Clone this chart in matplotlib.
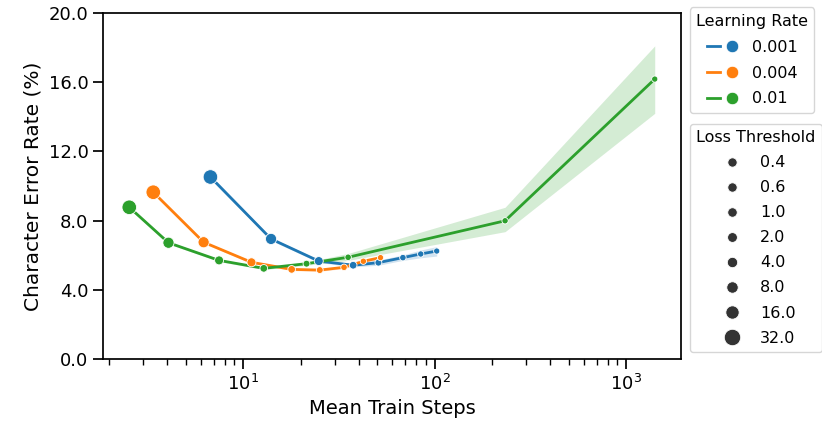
import numpy as np
import matplotlib
matplotlib.use("Agg")
import matplotlib.pyplot as plt
from matplotlib.lines import Line2D
from matplotlib.legend_handler import HandlerTuple
from matplotlib.ticker import FormatStrFormatter, FixedLocator

# Data
loss_thresholds = [32.0, 16.0, 8.0, 4.0, 2.0, 1.0, 0.6, 0.4]
legend_thresholds = [0.4, 0.6, 1.0, 2.0, 4.0, 8.0, 16.0, 32.0]
learning_rates = ["0.001", "0.004", "0.01"]

steps_lr001 = [6.74, 13.97, 24.8, 37.5, 50.8, 68.2, 84.5, 102.4]
cer_lr001 = [10.52, 6.94, 5.66, 5.42, 5.57, 5.86, 6.07, 6.24]
lo_lr001 = [10.40, 6.85, 5.58, 5.33, 5.42, 5.70, 5.85, 5.95]
hi_lr001 = [10.62, 7.02, 5.74, 5.52, 5.72, 6.02, 6.30, 6.50]

steps_lr004 = [3.39, 6.21, 11.04, 17.9, 25.1, 33.6, 42.4, 52.1]
cer_lr004 = [9.64, 6.75, 5.59, 5.18, 5.14, 5.30, 5.65, 5.86]
lo_lr004 = [9.57, 6.68, 5.52, 5.11, 5.07, 5.23, 5.57, 5.78]
hi_lr004 = [9.71, 6.82, 5.66, 5.25, 5.21, 5.37, 5.73, 5.94]

steps_lr01 = [2.54, 4.07, 7.48, 12.8, 21.4, 35.3, 233.0, 1409.0]
cer_lr01 = [8.77, 6.72, 5.70, 5.24, 5.51, 5.88, 7.99, 16.18]
lo_lr01 = [8.70, 6.65, 5.63, 5.17, 5.42, 5.70, 7.36, 14.2]
hi_lr01 = [8.84, 6.79, 5.77, 5.31, 5.60, 6.10, 8.77, 18.1]

colors = ["#1f77b4", "#ff7f0e", "#2ca02c"]
series = [
    (steps_lr001, cer_lr001, lo_lr001, hi_lr001),
    (steps_lr004, cer_lr004, lo_lr004, hi_lr004),
    (steps_lr01, cer_lr01, lo_lr01, hi_lr01),
]


def marker_area(t, smin, smax):
    # linear size mapping over the loss threshold range
    t = np.asarray(t, dtype=float)
    return smin + (t - 0.4) / (32.0 - 0.4) * (smax - smin)


fig = plt.figure(figsize=(8.22, 4.23), dpi=100)
ax = fig.add_axes([103 / 822, 64 / 423, 578 / 822, 346 / 423])

for (x, y, lo, hi), c in zip(series, colors):
    ax.fill_between(x, lo, hi, color=c, alpha=0.2, linewidth=0)
    ax.plot(x, y, color=c, linewidth=2.0)
    ax.scatter(x, y, s=marker_area(loss_thresholds, 20, 110), color=c,
               edgecolor="white", linewidth=0.6, zorder=3)

ax.set_xscale("log")
ax.set_ylim(0, 20)
ax.yaxis.set_major_locator(FixedLocator([0, 4, 8, 12, 16, 20]))
ax.yaxis.set_major_formatter(FormatStrFormatter("%.1f"))
ax.set_xlabel("Mean Train Steps", fontsize=14)
ax.set_ylabel("Character Error Rate (%)", fontsize=14.5)
ax.tick_params(axis="both", which="major", labelsize=13, length=7, width=1.25)
ax.tick_params(axis="x", which="minor", length=4.2, width=1.0)
for sp in ax.spines.values():
    sp.set_linewidth(1.25)

# Learning rate legend
lr_handles = [
    (Line2D([], [], color=c, linewidth=2.0),
     Line2D([], [], color=c, marker="o", linestyle="", markersize=9,
            markeredgecolor="white", markeredgewidth=0.6))
    for c in colors
]
leg1 = ax.legend(lr_handles, learning_rates, title="Learning Rate",
                 handler_map={tuple: HandlerTuple(ndivide=None)},
                 loc="upper left", bbox_to_anchor=(1.015, 1.016),
                 fontsize=11.5, title_fontsize=11.5, labelspacing=0.68,
                 borderaxespad=0.0)
ax.add_artist(leg1)

# Loss threshold legend
size_handles = [
    Line2D([], [], color="#333333", marker="o", linestyle="",
           markersize=np.sqrt(s), markeredgecolor="white", markeredgewidth=0.6)
    for s in marker_area(legend_thresholds, 45, 140)
]
ax.legend(size_handles, [f"{t:.1f}" for t in legend_thresholds],
          title="Loss Threshold", loc="upper left",
          bbox_to_anchor=(1.015, 0.68), fontsize=11.5, title_fontsize=11.5,
          labelspacing=0.63, borderaxespad=0.0)

fig.savefig("out.png", dpi=100)
